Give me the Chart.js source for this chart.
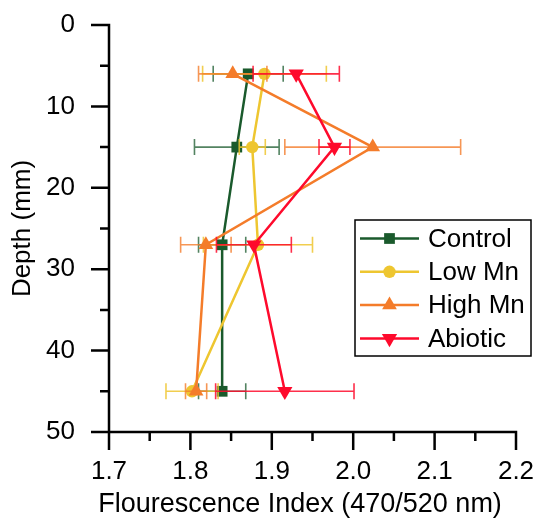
<!DOCTYPE html>
<html><head><meta charset="utf-8">
<script src="https://cdn.jsdelivr.net/npm/chart.js@4.4.1/dist/chart.umd.min.js"></script>
<style>html,body{margin:0;padding:0;background:#fff}#wrap{width:538px;height:520px}</style>
</head><body><div id="wrap"><canvas id="c" width="538" height="520"></canvas></div>
<script>
const depths = [6, 15, 27, 45];
const seriesNames = ['Control', 'Low Mn', 'High Mn', 'Abiotic'];
const controlFI = [1.871, 1.857, 1.839, 1.839];
const controlErr = [0.043, 0.052, 0.029, 0.029];
const lowMnFI = [1.891, 1.876, 1.883, 1.802];
const lowMnErr = [0.076, 0.016, 0.067, 0.032];
const highMnFI = [1.852, 2.024, 1.819, 1.807];
const highMnErr = [0.042, 0.108, 0.031, 0.013];
const abioticFI = [1.930, 1.977, 1.878, 1.916];
const abioticErr = [0.053, 0.019, 0.046, 0.085];
const xTicks = [1.7, 1.8, 1.9, 2.0, 2.1, 2.2];
const yTicks = [0, 10, 20, 30, 40, 50];
const xTitle = 'Flourescence Index (470/520 nm)';
const yTitle = 'Depth (mm)';

const FONT = 'Liberation Sans, Arial, sans-serif';
const FS = 26;

function mk(name, fi, err, color, errColor, style, radius, rot, order) {
  return {
    label: name,
    data: fi.map((v, i) => ({ x: v, y: depths[i] })),
    errors: err,
    errColor: errColor,
    showLine: true,
    borderColor: color,
    backgroundColor: color,
    borderWidth: 2.5,
    pointStyle: style,
    pointRadius: radius,
    pointRotation: rot,
    pointBorderWidth: 0,
    pointBackgroundColor: color,
    pointBorderColor: color,
    order: order,
    clip: false
  };
}

const datasets = [
  mk(seriesNames[0], controlFI, controlErr, '#1a5a2c', 'rgba(26,90,44,0.75)', 'rect', 7.6, 0, 4),
  mk(seriesNames[1], lowMnFI, lowMnErr, '#eec630', 'rgba(238,198,48,0.85)', 'circle', 6.2, 0, 3),
  mk(seriesNames[2], highMnFI, highMnErr, '#f47c2a', 'rgba(244,124,42,0.8)', 'triangle', 8.5, 0, 2),
  mk(seriesNames[3], abioticFI, abioticErr, '#fe0a2c', 'rgba(254,10,44,0.85)', 'triangle', 8.8, 180, 1)
];

const errorBars = {
  id: 'errorBars',
  afterDatasetDraw(chart, args) {
    const ds = chart.data.datasets[args.index];
    const { ctx } = chart;
    const xs = chart.scales.x, ys = chart.scales.y;
    ctx.save();
    ctx.strokeStyle = ds.errColor;
    ctx.lineWidth = 1.6;
    ds.data.forEach((p, i) => {
      const e = ds.errors[i];
      const x0 = xs.getPixelForValue(p.x - e);
      const x1 = xs.getPixelForValue(p.x + e);
      const py = ys.getPixelForValue(p.y);
      ctx.beginPath();
      ctx.moveTo(x0, py); ctx.lineTo(x1, py);
      ctx.moveTo(x0, py - 8); ctx.lineTo(x0, py + 8);
      ctx.moveTo(x1, py - 8); ctx.lineTo(x1, py + 8);
      ctx.stroke();
    });
    ctx.restore();
  }
};

const axesPlugin = {
  id: 'axesPlugin',
  afterDraw(chart) {
    const { ctx } = chart;
    const xs = chart.scales.x, ys = chart.scales.y;
    const ax = xs.getPixelForValue(xTicks[0]);
    const ay = ys.getPixelForValue(yTicks[yTicks.length - 1]);
    ctx.save();
    ctx.strokeStyle = '#000';
    ctx.lineWidth = 2.5;
    ctx.lineCap = 'butt';
    ctx.beginPath();
    ctx.moveTo(ax, ys.getPixelForValue(yTicks[0]) - 1.25);
    ctx.lineTo(ax, ay);
    ctx.moveTo(ax, ay);
    ctx.lineTo(xs.getPixelForValue(xTicks[xTicks.length - 1]) + 1.25, ay);
    xTicks.forEach(v => { const p = xs.getPixelForValue(v); ctx.moveTo(p, ay); ctx.lineTo(p, ay + 18); });
    yTicks.forEach(v => { const p = ys.getPixelForValue(v); ctx.moveTo(ax, p); ctx.lineTo(ax - 18, p); });
    for (let i = 0; i < xTicks.length - 1; i++) {
      const p = xs.getPixelForValue((xTicks[i] + xTicks[i + 1]) / 2);
      ctx.moveTo(p, ay); ctx.lineTo(p, ay + 9);
    }
    for (let i = 0; i < yTicks.length - 1; i++) {
      const p = ys.getPixelForValue((yTicks[i] + yTicks[i + 1]) / 2);
      ctx.moveTo(ax, p); ctx.lineTo(ax - 9, p);
    }
    ctx.stroke();
    // x axis title
    ctx.fillStyle = '#000';
    ctx.font = '27px ' + FONT;
    ctx.textAlign = 'center';
    ctx.textBaseline = 'middle';
    ctx.fillText(xTitle, 300, 505);
    ctx.restore();
  }
};

const legendPlugin = {
  id: 'boxLegend',
  afterDraw(chart) {
    const { ctx } = chart;
    const bx = 355, by = 220, bw = 176, bh = 136;
    ctx.save();
    ctx.fillStyle = '#fff';
    ctx.fillRect(bx, by, bw, bh);
    ctx.strokeStyle = '#000';
    ctx.lineWidth = 1.5;
    ctx.strokeRect(bx, by, bw, bh);
    chart.data.datasets.forEach((ds, i) => {
      const cy = 238.5 + i * 33.3;
      ctx.strokeStyle = ds.borderColor;
      ctx.lineWidth = 2.5;
      ctx.beginPath();
      ctx.moveTo(360, cy); ctx.lineTo(419, cy);
      ctx.stroke();
      ctx.fillStyle = ds.pointBackgroundColor;
      ctx.strokeStyle = ds.pointBorderColor;
      Chart.helpers.drawPoint(ctx, {
        pointStyle: ds.pointStyle, radius: ds.pointRadius,
        rotation: ds.pointRotation, borderWidth: 0
      }, 389.5, cy);
      ctx.fillStyle = '#000';
      ctx.font = FS + 'px ' + FONT;
      ctx.textBaseline = 'middle';
      ctx.textAlign = 'left';
      ctx.fillText(ds.label, 428, cy + 1);
    });
    ctx.restore();
  }
};

function zeroPad(s) { s.paddingTop = 0; s.paddingBottom = 0; s.paddingLeft = 0; s.paddingRight = 0; }

new Chart(document.getElementById('c'), {
  type: 'scatter',
  data: { datasets },
  options: {
    responsive: false,
    animation: false,
    devicePixelRatio: 1,
    layout: { padding: { top: 25, right: 22, left: 0, bottom: 0 } },
    plugins: { legend: { display: false }, tooltip: { enabled: false } },
    scales: {
      x: {
        type: 'linear', min: 1.7, max: 2.2,
        afterBuildTicks: s => { s.ticks = xTicks.map(v => ({ value: v })); },
        grid: { display: false, drawTicks: false },
        border: { display: false },
        ticks: { color: '#000', font: { family: FONT, size: FS }, padding: 24, maxRotation: 0, autoSkip: false, callback: v => Number(v).toFixed(1) },
        title: { display: false },
        afterFit: s => { s.height = 88; zeroPad(s); }
      },
      y: {
        type: 'linear', min: 0, max: 50, reverse: true,
        afterBuildTicks: s => { s.ticks = yTicks.map(v => ({ value: v })); },
        grid: { display: false, drawTicks: false },
        border: { display: false },
        ticks: { color: '#000', font: { family: FONT, size: FS }, padding: 34, autoSkip: false, callback: v => String(v) },
        title: { display: true, text: yTitle, color: '#000', font: { family: FONT, size: FS }, padding: { top: 7, bottom: 0 } },
        afterFit: s => { s.width = 109; zeroPad(s); }
      }
    }
  },
  plugins: [errorBars, axesPlugin, legendPlugin]
});
</script>
</body></html>
